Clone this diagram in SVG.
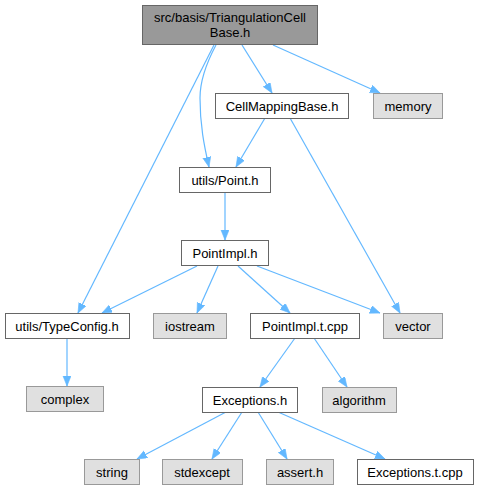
<svg xmlns="http://www.w3.org/2000/svg" width="479" height="491" viewBox="0 0 479 491">
<style>
text{font-family:"Liberation Sans",Arial,sans-serif;font-size:13px;fill:#000;text-anchor:middle}
.n rect{fill:#fff;stroke:#666;stroke-width:1}
.s rect{fill:#e0e0e0;stroke:#999;stroke-width:1}
.r rect{fill:#999;stroke:#666;stroke-width:1}
.e path{fill:none;stroke:#63b8ff;stroke-width:1.2}
</style>
<defs>
<marker id="a" markerUnits="userSpaceOnUse" markerWidth="12" markerHeight="10" refX="10" refY="4" orient="auto">
<path d="M0,0 L10,4 L0,8 Z" fill="#63b8ff" stroke="#63b8ff" stroke-width="0.6"/>
</marker>
</defs>
<rect width="479" height="491" fill="#fff"/>
<g class="e" id="edges">
<path d="M242,45 L272,93" marker-end="url(#a)"/>
<path d="M273,45 L380,93" marker-end="url(#a)"/>
<path d="M216,45 C208,60 200,78 200,98 C200,125 204,145 209,167" marker-end="url(#a)"/>
<path d="M214,45 L78,313" marker-end="url(#a)"/>
<path d="M265,118 L236,167" marker-end="url(#a)"/>
<path d="M290,118 L400,313" marker-end="url(#a)"/>
<path d="M225,192 L225,240" marker-end="url(#a)"/>
<path d="M197,266 L102,313" marker-end="url(#a)"/>
<path d="M218,266 L197,313" marker-end="url(#a)"/>
<path d="M238,266 L290,313" marker-end="url(#a)"/>
<path d="M257,266 L380,313" marker-end="url(#a)"/>
<path d="M67,338 L67,386" marker-end="url(#a)"/>
<path d="M295,338 L260,387" marker-end="url(#a)"/>
<path d="M314,338 L347,387" marker-end="url(#a)"/>
<path d="M226,412 L137,459" marker-end="url(#a)"/>
<path d="M242,412 L212,459" marker-end="url(#a)"/>
<path d="M258,412 L287,459" marker-end="url(#a)"/>
<path d="M278,412 L385,459" marker-end="url(#a)"/>
</g>
<g id="TriangulationCellBase" class="r"><rect x="142.5" y="5.5" width="175" height="39"/><text x="230" y="22">src/basis/TriangulationCell</text><text x="230" y="37">Base.h</text></g>
<g id="CellMappingBase" class="n"><rect x="215.5" y="93.5" width="133" height="25"/><text x="282" y="110.5">CellMappingBase.h</text></g>
<g id="memory" class="s"><rect x="373.5" y="93.5" width="69" height="25"/><text x="408" y="110.5">memory</text></g>
<g id="Point" class="n"><rect x="179.5" y="167.5" width="91" height="25"/><text x="225" y="184.5">utils/Point.h</text></g>
<g id="PointImpl" class="n"><rect x="181.5" y="240.5" width="87" height="25"/><text x="225" y="257.5">PointImpl.h</text></g>
<g id="TypeConfig" class="n"><rect x="5.5" y="313.5" width="124" height="25"/><text x="67" y="330.5">utils/TypeConfig.h</text></g>
<g id="iostream" class="s"><rect x="153.5" y="313.5" width="73" height="25"/><text x="190" y="330.5">iostream</text></g>
<g id="PointImplT" class="n"><rect x="250.5" y="313.5" width="109" height="25"/><text x="305" y="330.5">PointImpl.t.cpp</text></g>
<g id="vector" class="s"><rect x="383.5" y="313.5" width="59" height="25"/><text x="413" y="330.5">vector</text></g>
<g id="complex" class="s"><rect x="26.5" y="386.5" width="77" height="25"/><text x="65" y="403.5">complex</text></g>
<g id="Exceptions" class="n"><rect x="202.5" y="387.5" width="95" height="25"/><text x="250" y="404.5">Exceptions.h</text></g>
<g id="algorithm" class="s"><rect x="322.5" y="387.5" width="74" height="25"/><text x="359" y="404.5">algorithm</text></g>
<g id="string" class="s"><rect x="84.5" y="459.5" width="55" height="25"/><text x="112" y="476.5">string</text></g>
<g id="stdexcept" class="s"><rect x="162.5" y="459.5" width="80" height="25"/><text x="202" y="476.5">stdexcept</text></g>
<g id="assert" class="s"><rect x="266.5" y="459.5" width="67" height="25"/><text x="300" y="476.5">assert.h</text></g>
<g id="ExceptionsT" class="n"><rect x="357.5" y="459.5" width="116" height="25"/><text x="415" y="476.5">Exceptions.t.cpp</text></g>
</svg>
